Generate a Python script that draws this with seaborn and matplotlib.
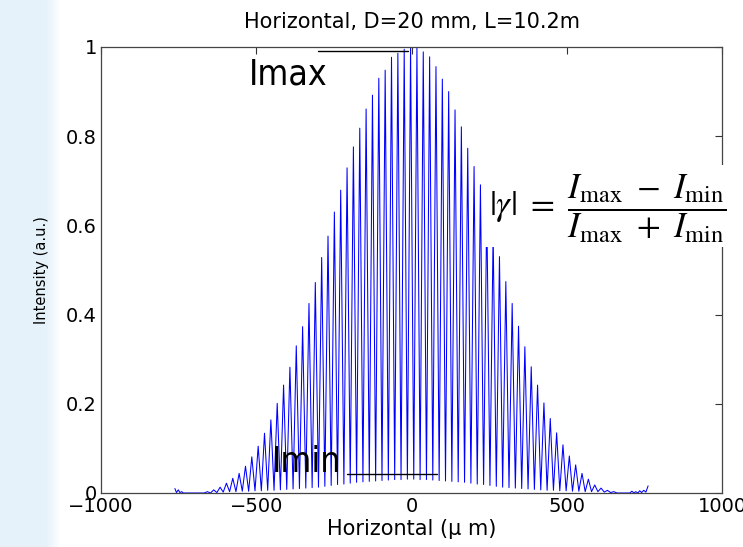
import numpy as np
import pandas as pd
import matplotlib
matplotlib.use("Agg")
import matplotlib.pyplot as plt
from matplotlib.patches import Rectangle
import seaborn as sns

# Fringe maxima: position (µm) and intensity
peak_pos = [-657.4, -637.0, -616.5, -596.1, -575.6, -555.2, -534.7, -514.3, -493.8,
            -473.4, -452.9, -432.5, -412.0, -391.6, -371.1, -350.7, -330.2, -309.8,
            -289.3, -268.9, -248.4, -228.0, -207.5, -187.1, -166.6, -146.2, -125.7,
            -105.3, -84.8, -64.4, -43.9, -23.5, -3.0, 17.5, 37.9, 58.4, 78.8, 99.3,
            119.7, 140.2, 160.6, 181.1, 201.5, 222.0, 242.4, 262.9, 283.3, 303.8,
            324.2, 344.7, 365.1, 385.6, 406.0, 426.5, 446.9, 467.4, 487.8, 508.3,
            528.7, 549.2, 569.6, 590.1, 610.5, 631.0, 651.4]
peak_val = [0.003, 0.007, 0.013, 0.022, 0.033, 0.044, 0.060, 0.081, 0.105, 0.134,
            0.164, 0.201, 0.242, 0.282, 0.330, 0.373, 0.425, 0.472, 0.528, 0.576,
            0.630, 0.679, 0.729, 0.776, 0.818, 0.861, 0.892, 0.930, 0.948, 0.977,
            0.986, 0.995, 1.000, 1.000, 0.989, 0.978, 0.956, 0.928, 0.900, 0.859,
            0.821, 0.773, 0.732, 0.691, 0.640, 0.585, 0.530, 0.474, 0.425, 0.374,
            0.328, 0.283, 0.242, 0.202, 0.167, 0.135, 0.108, 0.083, 0.063, 0.044,
            0.031, 0.018, 0.011, 0.006, 0.003]
# Fringe minima between consecutive maxima
trough_val = [0.000, 0.001, 0.002, 0.003, 0.003, 0.004, 0.004, 0.005, 0.005, 0.006,
              0.006, 0.007, 0.008, 0.009, 0.010, 0.011, 0.012, 0.013, 0.015, 0.017,
              0.019, 0.020, 0.022, 0.024, 0.025, 0.026, 0.027, 0.028, 0.029, 0.030,
              0.030, 0.031, 0.031, 0.030, 0.030, 0.029, 0.028, 0.027, 0.026, 0.025,
              0.024, 0.022, 0.020, 0.019, 0.017, 0.015, 0.013, 0.012, 0.011, 0.010,
              0.009, 0.008, 0.007, 0.006, 0.006, 0.005, 0.005, 0.004, 0.004, 0.003,
              0.003, 0.003, 0.002, 0.001]
# Weak edge ripples
left_tail_x = [-762, -757, -751, -746, -740, -735, -700, -668]
left_tail_y = [0.010, 0.001, 0.007, 0.001, 0.003, 0.000, 0.000, 0.000]
right_tail_x = [662, 703, 710, 716, 722, 729, 735, 741, 748, 755, 762]
right_tail_y = [0.000, 0.000, 0.004, 0.000, 0.003, 0.000, 0.005, 0.001, 0.006, 0.002, 0.016]

x_ticks = [-1000, -500, 0, 500, 1000]
x_ticklabels = ["\u22121000", "\u2212500", "0", "500", "1000"]
y_ticks = [0, 0.2, 0.4, 0.6, 0.8, 1.0]
y_ticklabels = ["0", "0.2", "0.4", "0.6", "0.8", "1"]

imax_line_x = [-302.7, -11.3]
imax_level = 0.992
imin_line_x = [-208.7, 83.1]
imin_level = 0.042

# Assemble the fringe trace: maxima interleaved with minima at midpoints
xs, ys = list(left_tail_x), list(left_tail_y)
for i, (p, v) in enumerate(zip(peak_pos, peak_val)):
    xs.append(p)
    ys.append(v)
    if i < len(trough_val):
        xs.append(0.5 * (p + peak_pos[i + 1]))
        ys.append(trough_val[i])
xs += right_tail_x
ys += right_tail_y
df = pd.DataFrame({"pos": xs, "intensity": ys})

sns.set_theme(style="white")
plt.rcParams["font.family"] = ["DejaVu Sans"]
plt.rcParams["text.color"] = "black"
plt.rcParams["axes.labelcolor"] = "black"

W, H = 743, 547
fig = plt.figure(figsize=(W / 100, H / 100), dpi=100)
fig.patch.set_facecolor("white")

# pale slide background strip on the left
bg = fig.add_axes([0, 0, 1, 1], zorder=-5)
px = np.arange(W)
wgt = np.clip((60 - px) / 14.0, 0, 1)
base = np.array([1.0, 1.0, 1.0])
tint = np.array([0.90, 0.95, 0.982])
row = base[None, :] * (1 - wgt[:, None]) + tint[None, :] * wgt[:, None]
img = np.repeat(row[None, :, :], H, axis=0)
bg.imshow(img, extent=[0, W, 0, H], aspect="auto")
bg.set_axis_off()

ax = fig.add_axes([101 / W, 1 - 493 / H, 621 / W, 446 / H])
ax.set_facecolor("white")
sns.lineplot(data=df, x="pos", y="intensity", ax=ax, color="#0000ff",
             linewidth=0.75, sort=False, estimator=None)

ax.set_xlim(-1000, 1000)
ax.set_ylim(0, 1)
ax.set_xticks(x_ticks)
ax.set_xticklabels(x_ticklabels)
ax.set_yticks(y_ticks)
ax.set_yticklabels(y_ticklabels)
ax.tick_params(direction="in", length=5, width=0.8, top=True, right=True,
               labelsize=14, pad=3, colors="#333333", labelcolor="black")
for s in ax.spines.values():
    s.set_visible(True)
    s.set_color("#444444")
    s.set_linewidth(0.9)

ax.set_title("Horizontal, D=20 mm, L=10.2m", fontsize=15, pad=14, color="black")
ax.set_xlabel("Horizontal (\u03bc m)", fontsize=15, labelpad=2)
ax.set_ylabel("Intensity (a.u.)", fontsize=10.5, labelpad=12)

# Imax / Imin markers
ax.plot(imax_line_x, [imax_level] * 2, color="black", lw=1.0, zorder=4)
ax.plot(imin_line_x, [imin_level] * 2, color="black", lw=1.0, zorder=4)
ax.text(-523, 0.915, "Imax", fontsize=25.5, fontstretch="condensed",
        va="baseline", ha="left", zorder=5, color="black")
ax.text(-449, 0.047, "Imin", fontsize=25.5, fontstretch="condensed",
        va="baseline", ha="left", zorder=5, color="black")

# Visibility formula on a white panel
ax.add_patch(Rectangle((485 / W, 1 - 247 / H), (W - 485) / W, 82 / H,
                       transform=fig.transFigure, facecolor="white",
                       edgecolor="none", zorder=6, clip_on=False))
ax.text(608 / W, 1 - 209 / H,
        r"$|\gamma|\ = \ \dfrac{I_{\rm max}\ -\ I_{\rm min}}{I_{\rm max}\ +\ I_{\rm min}}$",
        transform=fig.transFigure, fontsize=25, math_fontfamily="stix",
        ha="center", va="center", zorder=7, clip_on=False, color="black")

fig.savefig("out.png", dpi=100, facecolor=fig.get_facecolor())
